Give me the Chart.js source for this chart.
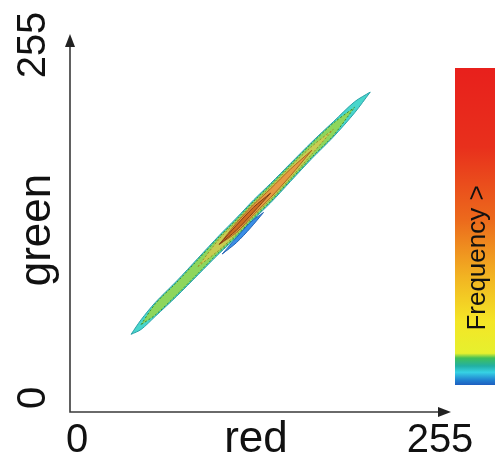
<!DOCTYPE html>
<html>
<head>
<meta charset="utf-8">
<script src="https://cdn.jsdelivr.net/npm/chart.js@4.4.0/dist/chart.umd.min.js"></script>
<style>
  html, body { margin: 0; padding: 0; background: #fff; }
  #wrap { width: 495px; height: 461px; }
</style>
</head>
<body>
<div id="wrap"><canvas id="chart"></canvas></div>
<script>
const redTicks = [0, 255];
const greenTicks = [0, 255];

// ridge of the 2D histogram: green value along the red axis
const ridgeRed   = [38, 45, 55, 70, 85, 100, 112, 124, 136, 150, 165, 180, 195, 206];
const ridgeGreen = [46, 53, 64, 79, 95, 111, 123, 136, 148, 163, 179, 194, 210, 221];

// half thickness (green units) of each frequency level along the ridge, null = level not reached
const cyanHalf   = [0, 3.5, 5, 5.5, 6, 6.5, 7, 7, 7, 6.5, 6, 5.5, 4, 0];
const greenHalf  = [null, 0, 4, 4.5, 5, 5.5, 6, 6, 6, 5.5, 5, 4.5, 0, null];
const yellowHalf = [null, null, null, null, 0, 4, 4.6, 4.8, 4.6, 4.2, 2.8, 0, null, null];
const orangeHalf = [null, null, null, null, null, 0, 3.4, 3.6, 3.2, 2.4, 0, null, null, null];
const peakHalf   = [null, null, null, null, null, 0, 1.8, 1.8, 0, null, null, null, null, null];

// small low-count patch under the ridge
const blueRed   = [102, 112, 122, 131];
const blueGreen = [104, 114, 125, 134];
const blueHalf  = [0, 1.8, 2, 0];

const levels = [
  { half: cyanHalf,   fill: '#48d6cc', line: '#2aa0a8', dash: [] },
  { half: greenHalf,  fill: '#8ed65c', line: '#3c8a34', dash: [2, 2] },
  { half: yellowHalf, fill: '#c8cc52', line: '#98902c', dash: [2, 2] },
  { half: orangeHalf, fill: '#e59a44', line: '#a8661e', dash: [] },
  { half: peakHalf,   fill: '#cf6a22', line: '#7e3c14', dash: [] }
];

function shape(reds, greens, half) {
  const up = [], down = [];
  for (let i = 0; i < reds.length; i++) {
    if (half[i] === null) continue;
    up.push({ x: reds[i], y: greens[i] + half[i] });
    down.unshift({ x: reds[i], y: greens[i] - half[i] });
  }
  return up.concat(down);
}

const datasets = levels.map((lv, i) => ({
  data: shape(ridgeRed, ridgeGreen, lv.half),
  showLine: true,
  fill: 'shape',
  backgroundColor: lv.fill,
  borderColor: lv.line,
  borderWidth: 1,
  borderDash: lv.dash,
  pointRadius: 0,
  tension: 0.3,
  order: -i
}));
datasets.push({
  data: shape(blueRed, blueGreen, blueHalf),
  showLine: true,
  fill: 'shape',
  backgroundColor: '#3a8ee6',
  borderColor: '#2462b4',
  borderWidth: 1,
  pointRadius: 0,
  tension: 0.3,
  order: -10
});

const font = '"Liberation Sans", Arial, sans-serif';

const decor = {
  id: 'decor',
  afterDraw(chart) {
    const ctx = chart.ctx;
    const xs = chart.scales.x, ys = chart.scales.y;
    const ax = xs.left - 7, ay = ys.bottom + 14;

    ctx.save();
    // axes with arrow heads
    ctx.strokeStyle = '#3a3a3a';
    ctx.fillStyle = '#222';
    ctx.lineWidth = 1.6;
    ctx.beginPath();
    ctx.moveTo(ax, 45); ctx.lineTo(ax, ay); ctx.lineTo(xs.right + 2, ay);
    ctx.stroke();
    ctx.beginPath();
    ctx.moveTo(ax, 34); ctx.lineTo(ax - 5, 47); ctx.lineTo(ax + 5, 47); ctx.closePath();
    ctx.fill();
    ctx.beginPath();
    ctx.moveTo(451, ay); ctx.lineTo(438, ay - 5); ctx.lineTo(438, ay + 5); ctx.closePath();
    ctx.fill();

    // tick labels and titles
    ctx.fillStyle = '#111';
    ctx.textAlign = 'center';
    ctx.textBaseline = 'middle';
    ctx.font = '40px ' + font;
    redTicks.forEach(v => ctx.fillText(String(v), xs.getPixelForValue(v), 441));
    ctx.font = '44px ' + font;
    ctx.fillText('red', 256, 440);
    ctx.save();
    ctx.translate(34, 0);
    ctx.rotate(-Math.PI / 2);
    ctx.font = '40px ' + font;
    greenTicks.forEach(v => ctx.fillText(String(v), -ys.getPixelForValue(v), 0));
    ctx.font = '44px ' + font;
    ctx.fillText('green', -230, 4);
    ctx.restore();

    // colour bar
    const top = 68, bottom = 385, left = 455;
    const g = ctx.createLinearGradient(0, top, 0, bottom);
    g.addColorStop(0, '#e8201c');
    g.addColorStop(0.25, '#e8301c');
    g.addColorStop(0.48, '#ec6a1c');
    g.addColorStop(0.66, '#f2b422');
    g.addColorStop(0.8, '#f4e626');
    g.addColorStop(0.9, '#e6f02e');
    g.addColorStop(0.915, '#40c058');
    g.addColorStop(0.94, '#22b0a4');
    g.addColorStop(0.96, '#36d2e4');
    g.addColorStop(0.985, '#2080d0');
    g.addColorStop(1, '#1e5ec0');
    ctx.fillStyle = g;
    ctx.fillRect(left, top, 45, bottom - top);

    ctx.save();
    ctx.translate(478, 258);
    ctx.rotate(-Math.PI / 2);
    ctx.fillStyle = '#111';
    ctx.font = '26px ' + font;
    ctx.fillText('Frequency >', 0, 0);
    ctx.restore();
    ctx.restore();
  }
};

new Chart(document.getElementById('chart'), {
  type: 'scatter',
  data: { datasets: datasets },
  options: {
    responsive: true,
    maintainAspectRatio: false,
    animation: false,
    layout: { padding: { left: 77, right: 55, top: 45, bottom: 63 } },
    scales: {
      x: { type: 'linear', display: false, min: 0, max: 255 },
      y: { type: 'linear', display: false, min: 0, max: 255 }
    },
    plugins: {
      legend: { display: false },
      tooltip: { enabled: false }
    }
  },
  plugins: [decor]
});
</script>
</body>
</html>
